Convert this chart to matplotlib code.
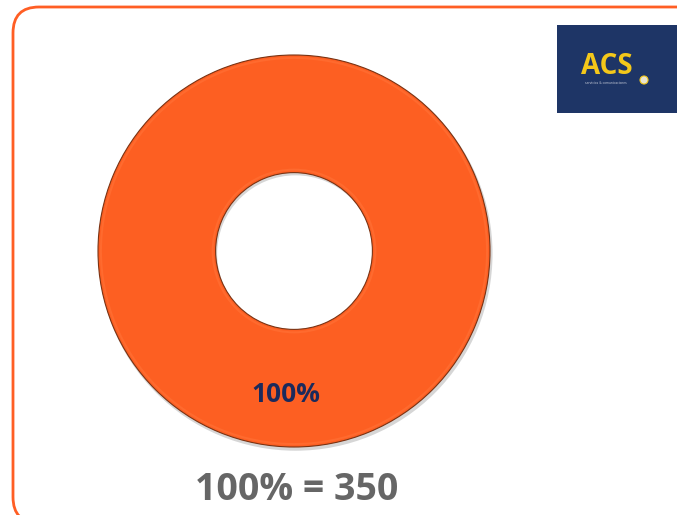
import matplotlib
matplotlib.use("Agg")
import matplotlib.pyplot as plt
from matplotlib.patches import FancyBboxPatch, Rectangle, Circle

labels = ["100%"]
values = [350]
total_label = "100% = 350"
logo_text = "ACS"
logo_sub = "servicios & comunicaciones"

W, H = 677, 515
fig = plt.figure(figsize=(W / 100, H / 100), dpi=100)
fig.patch.set_facecolor("white")

# background axes in pixel coords (y upward; use H - y for top-based values)
bg = fig.add_axes([0, 0, 1, 1])
bg.set_xlim(0, W)
bg.set_ylim(0, H)
bg.axis("off")

frame = FancyBboxPatch((13, H - 523), 700, 516, boxstyle="round,pad=0,rounding_size=26",
                       fill=False, edgecolor="#FF5E24", linewidth=2.0)
bg.add_patch(frame)

# logo
bg.add_patch(Rectangle((557, H - 113), 120, 88, facecolor="#1E3566", edgecolor="none"))
bg.text(607, H - 66, logo_text, color="#F4C81A", fontsize=20, fontweight="bold",
        ha="center", va="center", family="Open Sans")
bg.text(606, H - 83, logo_sub, color="#C8CCD8", fontsize=2.2, ha="center", va="center")
bg.add_patch(Circle((644, H - 80), 4, facecolor="#E8E4D0", edgecolor="#F4C81A", linewidth=0.8))

# donut
cx, cy, r = 294, 251, 196
ax = fig.add_axes([(cx - r) / W, (H - cy - r) / H, 2 * r / W, 2 * r / H])
# soft shadow
ax.pie([1], radius=1.005, center=(0.008, -0.014), colors=["#8A8A8A"],
       wedgeprops=dict(width=0.605, edgecolor="none", alpha=0.35))
wedges, _ = ax.pie(values, radius=1.0, colors=["#FD5F22"], startangle=90,
                   wedgeprops=dict(width=0.6, edgecolor="#7A3212", linewidth=0.8))
ax.pie([1], radius=0.985, colors=["none"], startangle=90,
       wedgeprops=dict(width=0.57, edgecolor="#FF6A2E", linewidth=1.5, fill=False))
ax.set_xlim(-1.0, 1.0)
ax.set_ylim(-1.0, 1.0)
ax.set_aspect("equal")
ax.axis("off")

# top text layer
top = fig.add_axes([0, 0, 1, 1])
top.set_xlim(0, W)
top.set_ylim(H, 0)
top.axis("off")
top.patch.set_alpha(0)
top.text(286, 394, labels[0], color="#1B2A5C", fontsize=19, fontweight="bold",
         ha="center", va="center", family="Open Sans")
top.text(297, 490, total_label, color="#666666", fontsize=27, fontweight="bold",
         ha="center", va="center", family="Open Sans")

fig.savefig("out.png", dpi=100)
